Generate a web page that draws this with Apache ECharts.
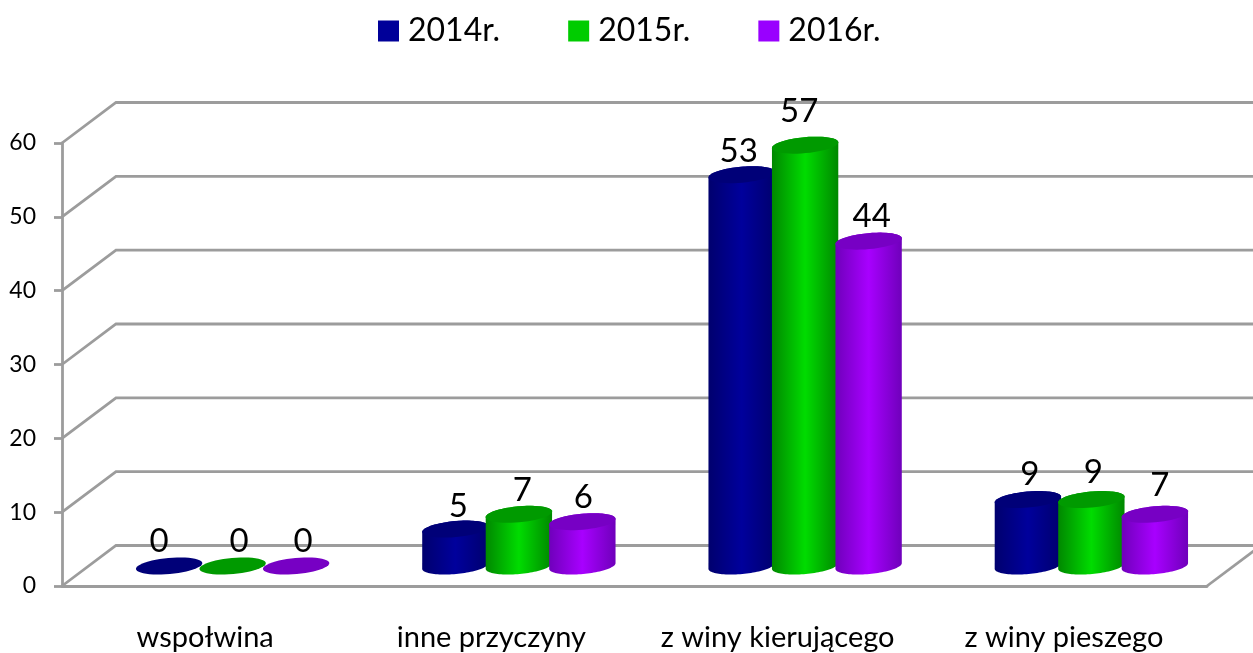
<!DOCTYPE html>
<html>
<head>
<meta charset="utf-8">
<style>html,body{margin:0;padding:0;background:#fff}#c{width:1253px;height:653px}</style>
<script src="https://cdn.jsdelivr.net/npm/echarts@6/dist/echarts.min.js"></script>
</head>
<body>
<div id="c"></div>
<script>
const categories = ['wspołwina', 'inne przyczyny', 'z winy kierującego', 'z winy pieszego'];
const seriesNames = ['2014r.', '2015r.', '2016r.'];
const values2014 = [0, 5, 53, 9];
const values2015 = [0, 7, 57, 9];
const values2016 = [0, 6, 44, 7];
const yTicks = [0, 10, 20, 30, 40, 50, 60];

// Label nudges relative to the top of each cylinder, one per bar.
const labelNudge2014 = [[-10, -25], [3, -23], [-3, -23], [2, -25]];
const labelNudge2015 = [[6.5, -25], [3.5, -23.5], [-6, -34], [2, -27]];
const labelNudge2016 = [[7, -25], [1, -24], [3, -25], [5, -29]];

const FONT = 'Lato';
const DEPTH_X = 54, DEPTH_Y = 40.5;
const MID_X = 27.5, MID_Y = 20;
const BAR_STEP = 63.5, RX = 33.3, RY = 8, TILT = -5.2 * Math.PI / 180;

const palette = [
  { legend: '#000099', edge: '#00006e', mid: '#00009c', top: '#000078' },
  { legend: '#00cc00', edge: '#008800', mid: '#00dc00', top: '#009a00' },
  { legend: '#9900ff', edge: '#6f00bb', mid: '#a800ff', top: '#7700c4' }
];

function ellipsePoint(cx, cy, t) {
  const x = RX * Math.cos(t), y = RY * Math.sin(t);
  return [cx + x * Math.cos(TILT) - y * Math.sin(TILT),
          cy + x * Math.sin(TILT) + y * Math.cos(TILT)];
}
function arc(cx, cy, from, to) {
  const pts = [];
  for (let k = 0; k <= 48; k++) pts.push(ellipsePoint(cx, cy, from + (to - from) * k / 48));
  return pts;
}

function cylinderSeries(idx, values, nudges) {
  const pal = palette[idx];
  return {
    type: 'custom',
    name: seriesNames[idx],
    z: 3,
    clip: false,
    silent: true,
    itemStyle: { color: pal.legend },
    encode: { x: 0, y: 1 },
    data: values.map((v, i) => [i, v]),
    renderItem(params, api) {
      const i = api.value(0), v = api.value(1);
      const p = api.coord([i, v]);
      const base = api.coord([i, 0]);
      const cx = p[0] + MID_X + (idx - 1) * BAR_STEP;
      const topY = p[1] - MID_Y, baseY = base[1] - MID_Y;
      const children = [];
      if (v > 0) {
        children.push({
          type: 'polygon',
          shape: { points: arc(cx, baseY, 0, Math.PI).concat(arc(cx, topY, Math.PI, 2 * Math.PI)) },
          style: {
            fill: {
              type: 'linear', x: 0, y: 0, x2: 1, y2: 0,
              colorStops: [
                { offset: 0, color: pal.edge },
                { offset: 0.5, color: pal.mid },
                { offset: 1, color: pal.edge }
              ]
            }
          }
        });
      }
      children.push({
        type: 'polygon',
        shape: { points: arc(cx, topY, 0, 2 * Math.PI) },
        style: { fill: pal.top }
      });
      const n = nudges[i];
      children.push({
        type: 'text',
        z2: 100,
        style: {
          text: String(v), x: cx + n[0], y: topY + n[1],
          align: 'center', verticalAlign: 'middle',
          font: '33px ' + FONT, fill: '#000'
        }
      });
      return { type: 'group', children };
    }
  };
}

const wallSeries = {
  type: 'custom',
  z: 1,
  clip: false,
  silent: true,
  encode: { y: 0 },
  data: yTicks,
  renderItem(params, api) {
    const v = api.value(0);
    const left = api.coord([0, v]);
    const cs = params.coordSys;
    const x0 = cs.x, x1 = cs.x + cs.width, y = left[1];
    const line = { stroke: '#9c9c9c', lineWidth: 2.8, fill: null };
    const children = [{
      type: 'polyline',
      shape: { points: [[x0, y], [x0 + DEPTH_X, y - DEPTH_Y], [x1 + DEPTH_X, y - DEPTH_Y]] },
      style: line
    }];
    if (v === 0) {
      children.push({
        type: 'line',
        shape: { x1: x1, y1: y, x2: x1 + DEPTH_X, y2: y - DEPTH_Y },
        style: line
      });
    }
    return { type: 'group', children };
  }
};

const chart = echarts.init(document.getElementById('c'), null, { renderer: 'canvas' });
chart.setOption({
  animation: false,
  backgroundColor: '#fff',
  textStyle: { fontFamily: FONT },
  legend: {
    left: 373, top: 10, icon: 'rect',
    itemWidth: 21, itemHeight: 21, itemGap: 68,
    selectedMode: false,
    data: seriesNames,
    textStyle: { fontFamily: FONT, fontSize: 32, color: '#000', padding: [0, 0, 0, 4] }
  },
  grid: { left: 62, right: 46, top: 143, bottom: 67 },
  xAxis: {
    type: 'category',
    data: categories,
    axisLine: { lineStyle: { color: '#9c9c9c', width: 2.8 } },
    axisTick: { length: 9, lineStyle: { color: '#9c9c9c', width: 2.8 } },
    axisLabel: { color: '#000', fontFamily: FONT, fontSize: 29, margin: 37, interval: 0 },
    splitLine: { show: false }
  },
  yAxis: {
    type: 'value', min: 0, max: 60, interval: 10,
    axisLine: { show: true, lineStyle: { color: '#9c9c9c', width: 2.8 } },
    axisTick: { show: true, length: 8, lineStyle: { color: '#9c9c9c', width: 2.8 } },
    axisLabel: { color: '#000', fontFamily: FONT, fontSize: 23, margin: 26, padding: [3, 0, 0, 0] },
    splitLine: { show: false }
  },
  series: [
    wallSeries,
    cylinderSeries(0, values2014, labelNudge2014),
    cylinderSeries(1, values2015, labelNudge2015),
    cylinderSeries(2, values2016, labelNudge2016)
  ]
});
</script>
</body>
</html>
